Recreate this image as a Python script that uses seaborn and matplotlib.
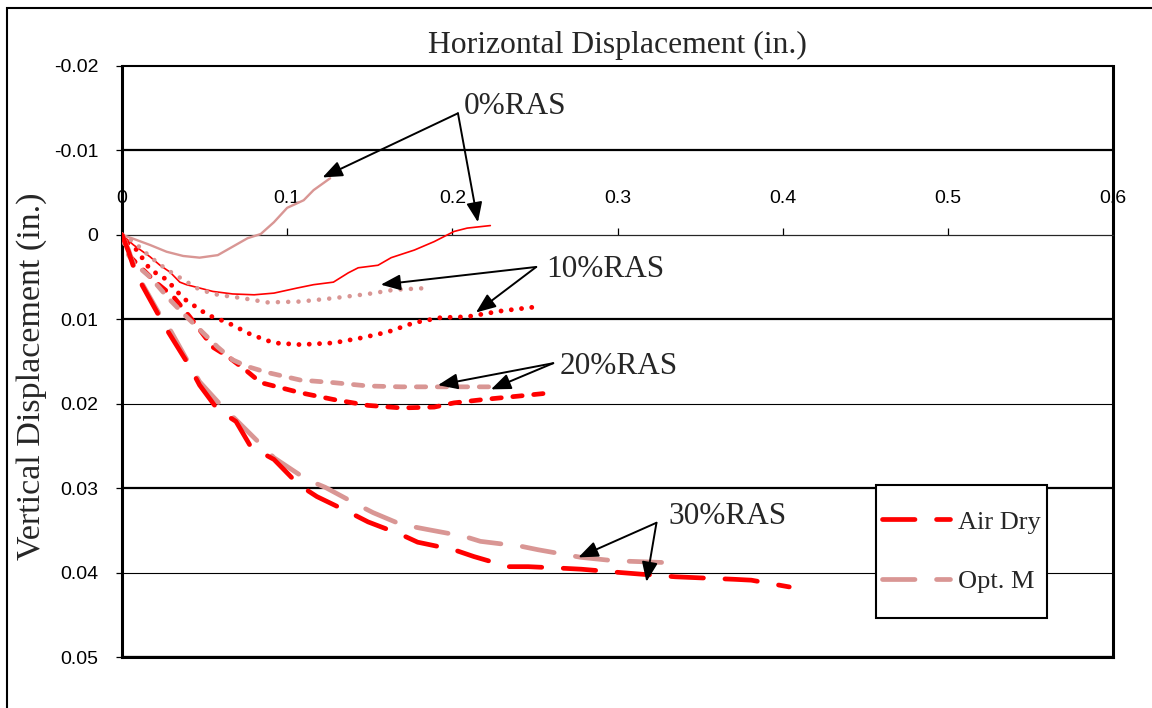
import matplotlib
matplotlib.use("Agg")
import matplotlib.pyplot as plt
import seaborn as sns
import pandas as pd
from matplotlib.lines import Line2D
from matplotlib.patches import Rectangle, Shadow
from matplotlib.ticker import FuncFormatter, FixedLocator

# ---------------- data ----------------
ras0_air_x = [0, 0.007, 0.017, 0.023, 0.029, 0.035, 0.039, 0.047, 0.055, 0.067, 0.080, 0.092, 0.106,
              0.116, 0.128, 0.137, 0.143, 0.155, 0.163, 0.177, 0.189, 0.201, 0.209, 0.223]
ras0_air_y = [0, 0.0012, 0.0026, 0.0036, 0.0044, 0.0056, 0.0059, 0.0063, 0.0067, 0.0070, 0.0071, 0.0069,
              0.0063, 0.0059, 0.0056, 0.0045, 0.0039, 0.0036, 0.0027, 0.0018, 0.0008, -0.0004, -0.0008, -0.0011]

ras0_opt_x = [0, 0.006, 0.017, 0.027, 0.037, 0.047, 0.058, 0.067, 0.076, 0.084, 0.092, 0.100, 0.110, 0.116, 0.126]
ras0_opt_y = [0, 0.0004, 0.0012, 0.0020, 0.0025, 0.0027, 0.0024, 0.0014, 0.0004, -0.0001, -0.0015, -0.0032,
              -0.0041, -0.0053, -0.0067]

ras10_air_x = [0, 0.003, 0.009, 0.017, 0.027, 0.037, 0.052, 0.064, 0.078, 0.092, 0.108, 0.128, 0.145, 0.161,
               0.177, 0.193, 0.209, 0.230, 0.252]
ras10_air_y = [0, 0.0009, 0.0018, 0.0041, 0.0053, 0.0075, 0.0095, 0.0104, 0.0118, 0.0128, 0.0130, 0.0128,
               0.0122, 0.0115, 0.0104, 0.0098, 0.0097, 0.0090, 0.0085]

ras10_opt_x = [0, 0.007, 0.017, 0.027, 0.037, 0.047, 0.058, 0.073, 0.088, 0.108, 0.128, 0.149, 0.165, 0.185]
ras10_opt_y = [0, 0.0008, 0.0026, 0.0041, 0.0053, 0.0065, 0.0071, 0.0075, 0.0080, 0.0079, 0.0075, 0.0070,
               0.0065, 0.0063]

ras20_air_x = [0, 0.005, 0.011, 0.021, 0.031, 0.041, 0.055, 0.064, 0.076, 0.084, 0.096, 0.108, 0.128, 0.149,
               0.169, 0.189, 0.201, 0.219, 0.240, 0.260]
ras20_air_y = [0, 0.0026, 0.0038, 0.0057, 0.0073, 0.0097, 0.0133, 0.0144, 0.0162, 0.0175, 0.0181, 0.0187,
               0.0195, 0.0202, 0.0205, 0.0204, 0.0199, 0.0195, 0.0191, 0.0187]

ras20_opt_x = [0, 0.003, 0.007, 0.017, 0.029, 0.039, 0.047, 0.058, 0.067, 0.076, 0.088, 0.108, 0.128, 0.149,
               0.169, 0.189, 0.223]
ras20_opt_y = [0, 0.0021, 0.0033, 0.0050, 0.0077, 0.0097, 0.0112, 0.0133, 0.0148, 0.0156, 0.0163, 0.0172,
               0.0175, 0.0179, 0.0180, 0.0180, 0.0180]

ras30_air_x = [0, 0.004, 0.007, 0.012, 0.023, 0.028, 0.041, 0.047, 0.058, 0.069, 0.078, 0.092, 0.107, 0.118,
               0.137, 0.149, 0.169, 0.179, 0.201, 0.213, 0.234, 0.246, 0.268, 0.278, 0.302, 0.315, 0.335,
               0.347, 0.371, 0.381, 0.404]
ras30_air_y = [0, 0.0020, 0.0038, 0.0059, 0.0098, 0.0115, 0.0156, 0.0178, 0.0207, 0.0221, 0.0251, 0.0266,
               0.0296, 0.0310, 0.0328, 0.0340, 0.0355, 0.0364, 0.0373, 0.0381, 0.0393, 0.0393, 0.0395,
               0.0396, 0.0400, 0.0402, 0.0405, 0.0406, 0.0408, 0.0409, 0.0417]

ras30_opt_x = [0, 0.004, 0.007, 0.012, 0.023, 0.029, 0.041, 0.047, 0.060, 0.069, 0.085, 0.092, 0.112, 0.123,
               0.143, 0.152, 0.169, 0.185, 0.207, 0.217, 0.242, 0.252, 0.278, 0.298, 0.327]
ras30_opt_y = [0, 0.0018, 0.0036, 0.0057, 0.0095, 0.0112, 0.0154, 0.0174, 0.0202, 0.0219, 0.0250, 0.0264,
               0.0290, 0.0299, 0.0320, 0.0329, 0.0343, 0.0349, 0.0357, 0.0363, 0.0369, 0.0373, 0.0382,
               0.0386, 0.0388]

x_ticks = [0, 0.1, 0.2, 0.3, 0.4, 0.5, 0.6]
y_ticks = [-0.02, -0.01, 0, 0.01, 0.02, 0.03, 0.04, 0.05]
grid_widths = [1.5, 1.6, 0.8, 1.6, 0.8, 1.6, 0.8, 1.6]

conditions = ["Air Dry", "Opt. M"]
ras_levels = ["0%RAS", "10%RAS", "20%RAS", "30%RAS"]

# annotation label (x, baseline y), arrow origin, arrow tips
label_pos = {"0%RAS": (0.2070, -0.0143), "10%RAS": (0.2568, 0.0050),
             "20%RAS": (0.2647, 0.0165), "30%RAS": (0.3309, 0.0343)}
arrow_from = {"0%RAS": (0.2034, -0.0144), "10%RAS": (0.2508, 0.0038),
              "20%RAS": (0.2611, 0.0152), "30%RAS": (0.3236, 0.0341)}
arrow_tips = {"0%RAS": [(0.1214, -0.0068), (0.2155, -0.0015)],
              "10%RAS": [(0.1567, 0.0059), (0.2143, 0.0092)],
              "20%RAS": [(0.1913, 0.0178), (0.2234, 0.0183)],
              "30%RAS": [(0.2763, 0.0382), (0.3175, 0.0411)]}

series = [
    ("0%RAS", "Air Dry", ras0_air_x, ras0_air_y),
    ("0%RAS", "Opt. M", ras0_opt_x, ras0_opt_y),
    ("10%RAS", "Air Dry", ras10_air_x, ras10_air_y),
    ("10%RAS", "Opt. M", ras10_opt_x, ras10_opt_y),
    ("20%RAS", "Air Dry", ras20_air_x, ras20_air_y),
    ("20%RAS", "Opt. M", ras20_opt_x, ras20_opt_y),
    ("30%RAS", "Opt. M", ras30_opt_x, ras30_opt_y),
    ("30%RAS", "Air Dry", ras30_air_x, ras30_air_y),
]
rows = []
for ras, cond, xs, ys in series:
    for xv, yv in zip(xs, ys):
        rows.append({"ras": ras, "cond": cond, "x": xv, "y": yv})
df = pd.DataFrame(rows)

# ---------------- style ----------------
sns.set_style("white")
plt.rcParams["font.family"] = ["Liberation Serif", "DejaVu Serif"]
plt.rcParams["axes.unicode_minus"] = False
plt.rcParams["lines.scale_dashes"] = False

colors = {"Air Dry": "#FF0000", "Opt. M": "#D99694"}
line_styles = {
    "0%RAS": dict(linestyle="-", lw={"Air Dry": 1.2, "Opt. M": 1.7}),
    "10%RAS": dict(linestyle=(0, (0.01, 7.4)), lw={"Air Dry": 3.5, "Opt. M": 3.3}),
    "20%RAS": dict(linestyle=(0, (6.8, 8.3)), lw={"Air Dry": 3.4, "Opt. M": 3.4}),
    "30%RAS": dict(linestyle=(0, (23.4, 15.5)), lw={"Air Dry": 3.4, "Opt. M": 3.4}),
}

fig = plt.figure(figsize=(11.52, 7.08), dpi=100)
ax = fig.add_axes([122 / 1152, 1 - 657 / 708, (1113 - 122) / 1152, (657 - 66) / 708])

for ras, cond, xs, ys in series:
    sub = df[(df["ras"] == ras) & (df["cond"] == cond)]
    st = line_styles[ras]
    sns.lineplot(data=sub, x="x", y="y", ax=ax, color=colors[cond], lw=st["lw"][cond],
                 linestyle=st["linestyle"], dash_capstyle="round", solid_capstyle="round",
                 estimator=None, sort=False, legend=False, zorder=3)

ax.set_xlim(x_ticks[0], x_ticks[-1])
ax.set_ylim(y_ticks[-1], y_ticks[0])
ax.set_xlabel("")
ax.set_ylabel("Vertical Displacement (in.)", fontsize=24.5)
ax.yaxis.set_label_coords(-0.0757, 0.4755)
ax.set_title("Horizontal Displacement (in.)", fontsize=22.8, pad=9)

# gridlines at each y tick
for yv, w in zip(y_ticks, grid_widths):
    ax.axhline(yv, color="black", lw=w, zorder=1, clip_on=False)

fmt = FuncFormatter(lambda v, p: "0" if abs(v) < 1e-9 else f"{round(v, 4):g}")
ax.xaxis.set_major_locator(FixedLocator(x_ticks))
ax.yaxis.set_major_locator(FixedLocator(y_ticks))
ax.xaxis.set_major_formatter(fmt)
ax.yaxis.set_major_formatter(fmt)

# x axis crossing at y = 0, labels above
ax.spines["top"].set_position(("data", 0))
ax.spines["top"].set_linewidth(0.8)
ax.xaxis.set_ticks_position("top")
ax.tick_params(axis="x", which="major", direction="out", length=5, width=0.9, pad=15,
               labelsize=14, colors="black", labelfontfamily="Liberation Sans")
ax.tick_params(axis="y", which="major", left=True, direction="out", length=4, width=0.9, pad=13,
               labelsize=14, colors="black", labelfontfamily="Liberation Sans")
for s in ["left", "right", "bottom"]:
    ax.spines[s].set_linewidth(2.2)
    ax.spines[s].set_color("black")
ax.grid(False)

# annotations
arrow_kw = dict(arrowstyle="-|>,head_length=0.75,head_width=0.3", color="black", lw=1.4,
                mutation_scale=16, shrinkA=0, shrinkB=0)
for ras in ras_levels:
    lx, ly = label_pos[ras]
    ax.text(lx, ly, ras, fontsize=22.5, ha="left", va="baseline", zorder=6)
    for tip in arrow_tips[ras]:
        ax.annotate("", xy=tip, xytext=arrow_from[ras], arrowprops=arrow_kw, zorder=6)

# legend box with shadow
box = Rectangle((0.7608, 0.0660), 0.1726, 0.2250, transform=ax.transAxes, facecolor="white",
                edgecolor="black", lw=1.5, zorder=8)
shadow = Shadow(box, 4, -4, facecolor="0.6", edgecolor="none", alpha=0.55)
shadow.set_zorder(7)
ax.add_patch(shadow)
ax.add_patch(box)

handles = [Line2D([], [], color=colors[c], lw=3.4, linestyle=(0, (23.4, 15.5)),
                  dash_capstyle="round") for c in conditions]
leg = ax.legend(handles, conditions, loc="center", bbox_to_anchor=(0.8471, 0.1785),
                frameon=False, fontsize=19, handlelength=2.6, handletextpad=0.3,
                labelspacing=1.35, borderpad=0.2)
leg.set_zorder(9)

# outer frame of figure
fig.add_artist(Rectangle((7 / 1152, -0.1), 1.2, 1.1 - 8 / 708, transform=fig.transFigure,
                         facecolor="none", edgecolor="black", lw=1.5))

fig.savefig("out.png", dpi=100)
